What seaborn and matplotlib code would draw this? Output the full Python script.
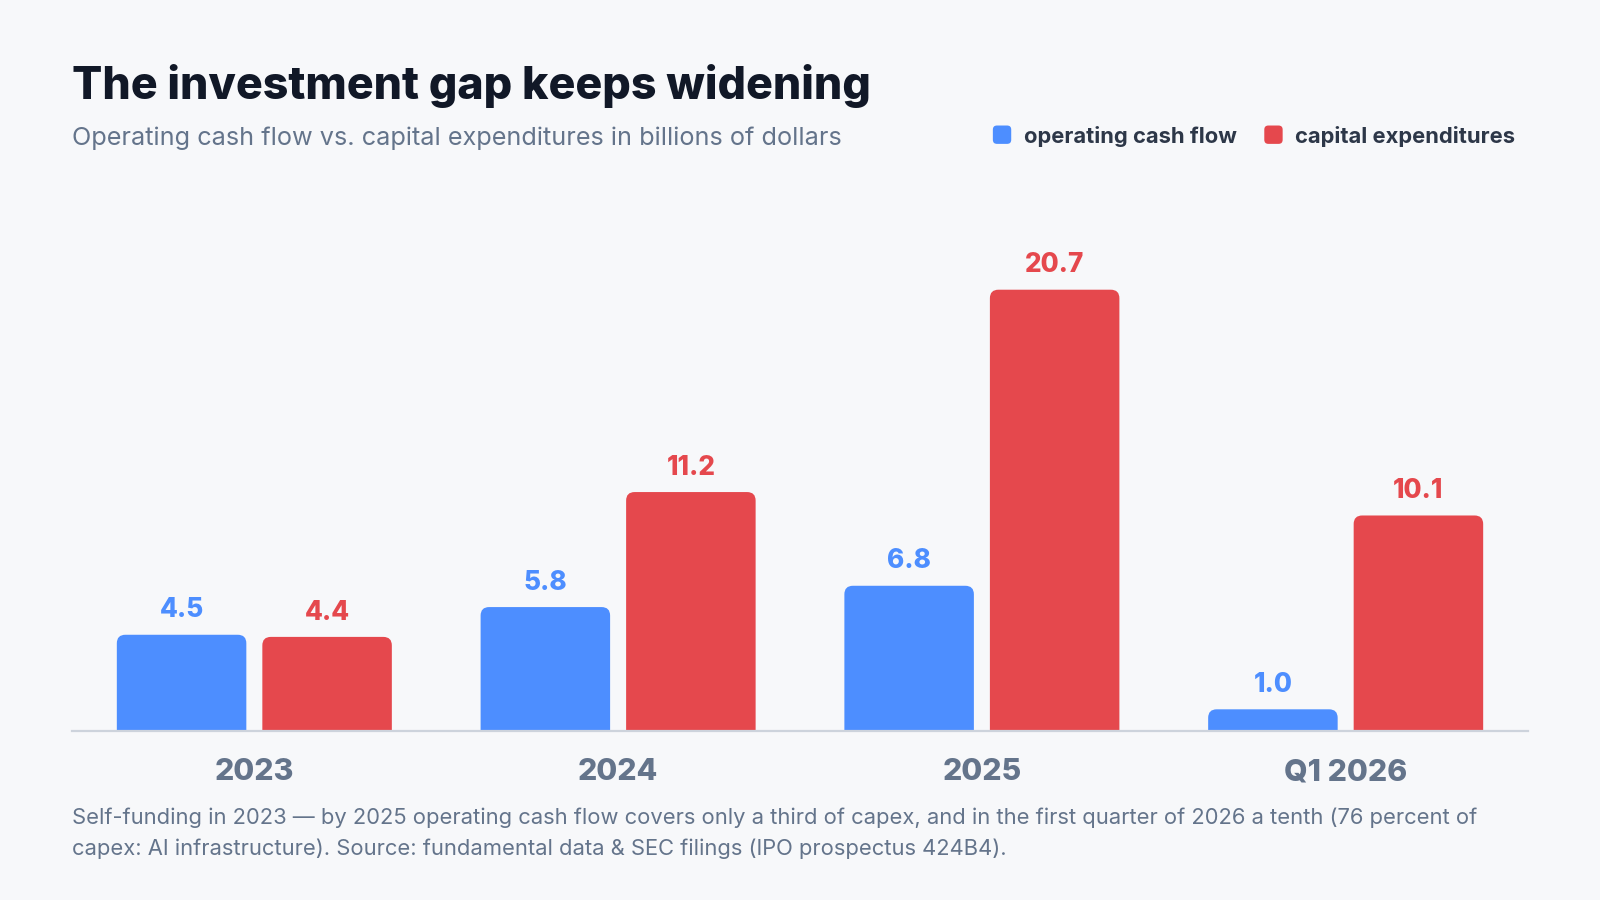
import matplotlib
matplotlib.use("Agg")
import matplotlib.pyplot as plt
from matplotlib.patches import FancyBboxPatch
import seaborn as sns
import pandas as pd

# ---- data ----
periods = ["2023", "2024", "2025", "Q1 2026"]
operating_cash_flow = [4.5, 5.8, 6.8, 1.0]
capital_expenditures = [4.4, 11.2, 20.7, 10.1]
series_names = ["operating cash flow", "capital expenditures"]

title = "The investment gap keeps widening"
subtitle = "Operating cash flow vs. capital expenditures in billions of dollars"
footnote_lines = [
    "Self-funding in 2023 \u2014 by 2025 operating cash flow covers only a third of capex, and in the first quarter of 2026 a tenth (76 percent of",
    "capex: AI infrastructure). Source: fundamental data & SEC filings (IPO prospectus 424B4).",
]

BG = "#F7F8FA"
BLUE = "#4D8EFF"
RED = "#E5484D"
colors = [BLUE, RED]

df = pd.DataFrame({
    "period": periods * 2,
    "value": operating_cash_flow + capital_expenditures,
    "series": [series_names[0]] * len(periods) + [series_names[1]] * len(periods),
})

sns.set_theme(style="white")
plt.rcParams["font.family"] = ["Inter", "DejaVu Sans"]

W, H = 1568, 882  # reference pixel frame
fig = plt.figure(figsize=(16, 9), dpi=100, facecolor=BG)
ax_left, ax_right = 71 / W, 1497 / W
ax_bottom = (H - 716) / H
ax_top = (H - 200) / H
ax = fig.add_axes([ax_left, ax_bottom, ax_right - ax_left, ax_top - ax_bottom])
ax.set_facecolor(BG)

sns.barplot(data=df, x="period", y="value", hue="series", order=periods,
            hue_order=series_names, palette=colors, width=0.8, gap=0.11,
            legend=False, ax=ax, saturation=1)

ax.set_xlim(-0.5, len(periods) - 0.5)
ax.set_ylim(0, 24.72)
for s in ["top", "right", "left"]:
    ax.spines[s].set_visible(False)
ax.spines["bottom"].set_color("#CDD3DC")
ax.spines["bottom"].set_linewidth(1.6)
ax.set_yticks([])
ax.set_xlabel("")
ax.set_ylabel("")
ax.tick_params(axis="x", length=0, pad=20)
for lbl in ax.get_xticklabels():
    lbl.set_fontsize(21.8)
    lbl.set_fontweight("heavy")
    lbl.set_color("#64748B")

# rounded top corners
fig.canvas.draw()
bbox = ax.get_window_extent()
xu_per_px = (ax.get_xlim()[1] - ax.get_xlim()[0]) / bbox.width
yu_per_px = (ax.get_ylim()[1] - ax.get_ylim()[0]) / bbox.height
rpx = 8.5
rx = rpx * xu_per_px
asp = yu_per_px / xu_per_px
patches = list(ax.patches)
for p in patches:
    x, y = p.get_x(), p.get_y()
    w, h = p.get_width(), p.get_height()
    fc = p.get_facecolor()
    p.remove()
    extra = 1.0
    fb = FancyBboxPatch((x, y - extra), w, h + extra,
                        boxstyle=f"round,pad=0,rounding_size={rx}",
                        mutation_aspect=asp, facecolor=fc, edgecolor="none",
                        clip_on=True, zorder=2)
    ax.add_patch(fb)
    ax.annotate(f"{h:.1f}", (x + w / 2, h), xytext=(0, 12.5),
                textcoords="offset points", ha="center", va="baseline",
                fontsize=18.8, fontweight="heavy", color=fc)

# titles
fig.text(71 / W, 1 - 97 / H, title, fontsize=32.2, fontweight="heavy",
         color="#111827", ha="left", va="baseline")
fig.text(71 / W, 1 - 142 / H, subtitle, fontsize=18.2, color="#64748B",
         ha="left", va="baseline")

# legend
fig_asp = (16 / 9)  # width/height of figure
leg_items = [(973, 1004, series_names[0], BLUE), (1239, 1269, series_names[1], RED)]
for sx, tx, name, c in leg_items:
    sq = FancyBboxPatch((sx / W, 1 - 141 / H), 18 / W, 18 / H,
                        boxstyle=f"round,pad=0,rounding_size={4 / W}",
                        mutation_aspect=fig_asp,
                        transform=fig.transFigure, facecolor=c, edgecolor="none")
    fig.patches.append(sq)
    fig.text(tx / W, 1 - 140 / H, name, fontsize=15.8, fontweight="bold",
             color="#2D3748", ha="left", va="baseline")

for i, line in enumerate(footnote_lines):
    fig.text(71 / W, 1 - (808 + 30 * i) / H, line, fontsize=15.8,
             color="#64748B", ha="left", va="baseline")

fig.savefig("out.png", dpi=100, facecolor=BG)
